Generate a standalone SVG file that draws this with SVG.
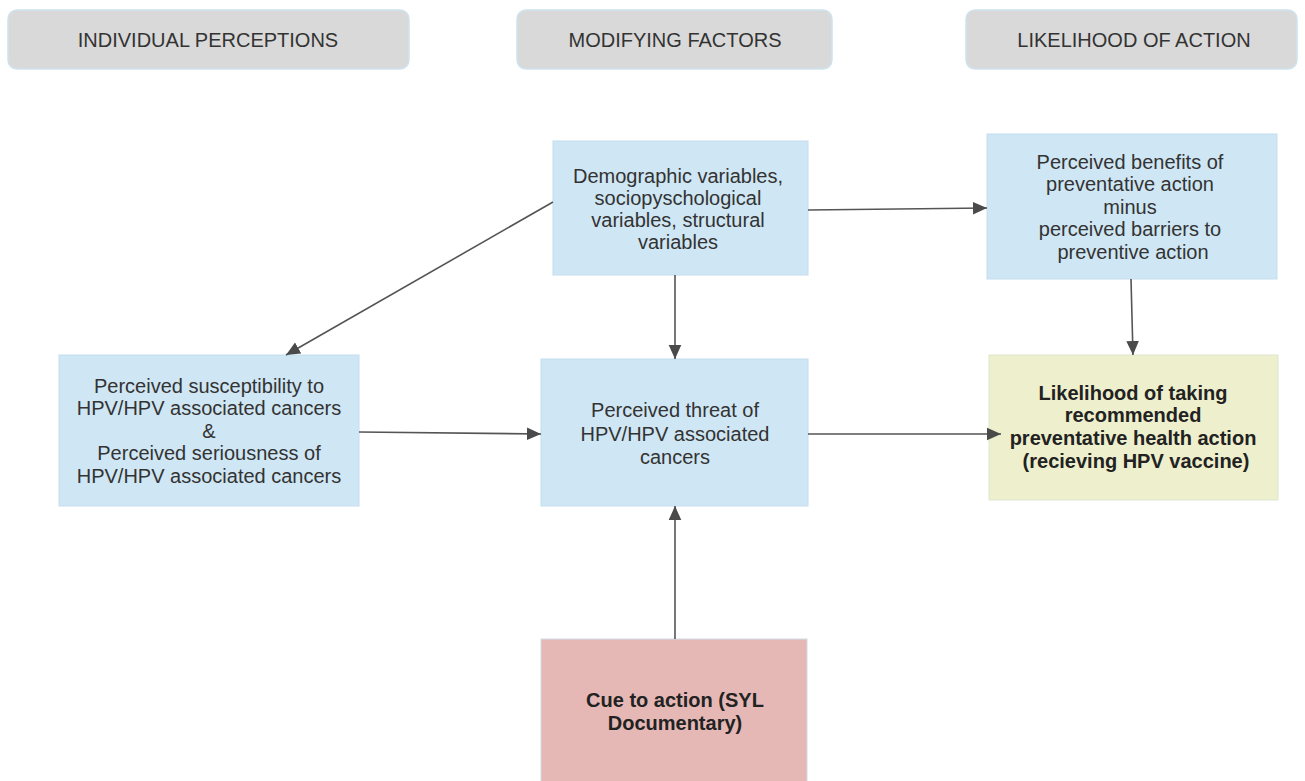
<svg xmlns="http://www.w3.org/2000/svg" width="1305" height="781" viewBox="0 0 1305 781">
<style>
.hdr{fill:#d9d9d9;stroke:#cfe3ee;stroke-width:1.5}
.blue{fill:#cfe6f4;stroke:#c4def0;stroke-width:1}
.yel{fill:#eeefcc;stroke:#dde7cf;stroke-width:1}
.red{fill:#e5b8b6;stroke:#cfdde8;stroke-width:1}
text{font-family:"Liberation Sans",Arial,sans-serif;font-size:20px;fill:#333;text-anchor:middle}
.b{font-weight:bold;fill:#222}
.c{stroke:#555;stroke-width:1.6;fill:none;marker-end:url(#ah)}
</style>
<defs>
<marker id="ah" viewBox="0 0 10 10" refX="10" refY="5" markerWidth="14" markerHeight="14" markerUnits="userSpaceOnUse" orient="auto">
<path d="M0,0.5 L10,5 L0,9.5 z" fill="#4a4a4a"/>
</marker>
</defs>
<rect width="1305" height="781" fill="#fff"/>
<g id="h1"><rect class="hdr" x="8" y="10" width="401" height="59" rx="9"/><text x="208" y="47">INDIVIDUAL PERCEPTIONS</text></g>
<g id="h2"><rect class="hdr" x="517" y="10" width="315" height="59" rx="9"/><text x="675" y="47">MODIFYING FACTORS</text></g>
<g id="h3"><rect class="hdr" x="966" y="10" width="331" height="59" rx="9"/><text x="1134" y="47">LIKELIHOOD OF ACTION</text></g>
<g id="demo"><rect class="blue" x="553" y="141" width="255" height="134"/>
<text x="678" y="183">Demographic variables,</text><text x="678" y="205">sociopyschological</text><text x="678" y="227">variables, structural</text><text x="678" y="249">variables</text></g>
<g id="benefits"><rect class="blue" x="987" y="134" width="290" height="145"/>
<text x="1130" y="169">Perceived benefits of</text><text x="1130" y="191">preventative action</text><text x="1130" y="214">minus</text><text x="1130" y="236">perceived barriers to</text><text x="1133" y="259">preventive action</text></g>
<g id="suscept"><rect class="blue" x="59" y="355" width="300" height="151"/>
<text x="209" y="393">Perceived susceptibility to</text><text x="209" y="415">HPV/HPV associated cancers</text><text x="209" y="438">&amp;</text><text x="209" y="460">Perceived seriousness of</text><text x="209" y="483">HPV/HPV associated cancers</text></g>
<g id="threat"><rect class="blue" x="541" y="359" width="267" height="147"/>
<text x="675" y="417">Perceived threat of</text><text x="675" y="441">HPV/HPV associated</text><text x="675" y="464">cancers</text></g>
<g id="likelihood"><rect class="yel" x="989" y="355" width="289" height="145"/>
<text class="b" x="1133" y="400">Likelihood of taking</text><text class="b" x="1133" y="422">recommended</text><text class="b" x="1133" y="445">preventative health action</text><text class="b" x="1136" y="468">(recieving HPV vaccine)</text></g>
<g id="cue"><rect class="red" x="541" y="639" width="266" height="145"/>
<text class="b" x="675" y="707">Cue to action (SYL</text><text class="b" x="675" y="730">Documentary)</text></g>
<g id="connectors">
<path class="c" d="M553,202 L286,355"/>
<path class="c" d="M808,210 L987,208"/>
<path class="c" d="M675,275 L675,359"/>
<path class="c" d="M1131,279 L1133,355"/>
<path class="c" d="M359,432 L541,434"/>
<path class="c" d="M808,434 L1001,434"/>
<path class="c" d="M675,639 L675,506"/>
</g>
</svg>
